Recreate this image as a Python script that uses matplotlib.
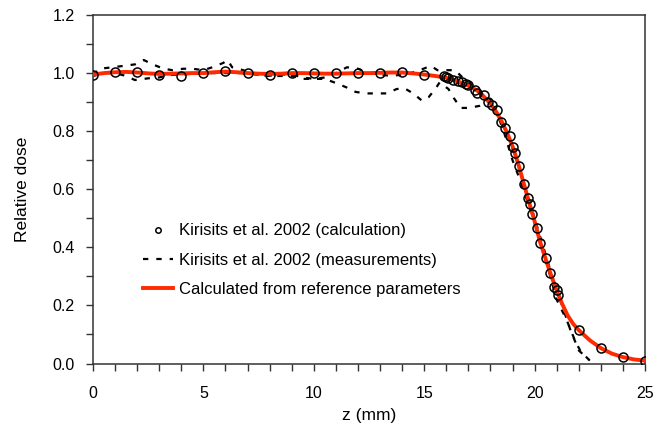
import matplotlib
matplotlib.use("Agg")
import matplotlib.pyplot as plt
from matplotlib.ticker import MultipleLocator

plt.rcParams['font.family'] = ['Liberation Sans', 'DejaVu Sans']

# Kirisits et al. 2002 (calculation) - circles
calc_z = [0, 1, 2, 3, 4, 5, 6, 7, 8, 9, 10, 11, 12, 13, 14, 15,
          15.9, 16.0, 16.1, 16.3, 16.55, 16.7, 16.9, 17.0, 17.3, 17.4, 17.7, 17.9,
          18.05, 18.3, 18.5, 18.65, 18.9, 19.0, 19.1, 19.3, 19.5, 19.7, 19.8, 19.9,
          20.1, 20.25, 20.5, 20.7, 20.9, 21.0, 21.07, 22, 23, 24, 25]
calc_d = [0.995, 1.005, 1.005, 0.995, 0.99, 1.0, 1.008, 1.0, 0.993, 1.0, 1.0, 1.0, 1.0, 1.001, 1.005, 0.993,
          0.99, 0.988, 0.982, 0.975, 0.972, 0.968, 0.962, 0.958, 0.942, 0.933, 0.925, 0.901,
          0.89, 0.873, 0.833, 0.81, 0.782, 0.747, 0.726, 0.681, 0.618, 0.569, 0.549, 0.515,
          0.466, 0.415, 0.362, 0.313, 0.265, 0.252, 0.236, 0.116, 0.052, 0.023, 0.01]

# Kirisits et al. 2002 (measurements) - two dashed profiles
meas1_z = [0, 0.3, 0.9, 1.4, 1.9, 2.3, 2.7, 3.2, 3.6, 4.1, 4.5, 5.0, 5.4, 5.9, 6.1, 6.3, 6.8,
           7.3, 7.9, 8.4, 9.0, 9.5, 10.0, 10.5, 11.0, 11.5, 12.0, 12.5, 13.0, 13.5, 14.0,
           14.4, 14.8, 15.3, 15.6, 16.0, 16.4, 16.8, 17.2, 17.6, 18.0, 18.4, 18.8, 19.2,
           19.6, 20.0, 20.4, 20.8, 21.2, 21.6, 22.0, 22.5]
meas1_d = [0.995, 1.015, 1.02, 1.025, 1.03, 1.045, 1.03, 1.015, 1.01, 1.015, 1.015, 1.01, 1.02,
           1.035, 1.045, 1.02, 1.01, 0.996, 0.99, 0.995, 0.995, 0.985, 0.98, 0.985, 1.0, 1.02,
           1.015, 1.0, 0.995, 0.99, 0.995, 1.0, 1.01, 1.025, 1.01, 1.01, 1.01, 0.98, 0.955,
           0.93, 0.9, 0.85, 0.78, 0.70, 0.60, 0.50, 0.40, 0.30, 0.21, 0.12, 0.045, 0.01]
meas2_z = [0, 0.5, 1.0, 1.5, 1.9, 2.5, 3.0, 3.4, 4.0, 5.0, 6.0, 7.0, 8.0, 8.5, 9.0, 9.5, 10.0,
           10.5, 11.1, 11.5, 11.9, 12.4, 12.9, 13.3, 13.75, 14.1, 14.5, 14.9, 15.2, 15.5,
           15.7, 16.1, 16.35, 16.65, 17.0, 17.5, 17.8, 18.0, 18.3, 18.6, 19.0, 19.4, 19.8,
           20.2, 20.6, 21.0, 21.45, 21.85, 22.1, 22.45]
meas2_d = [0.99, 1.0, 1.0, 0.99, 0.976, 0.982, 0.985, 0.993, 0.995, 1.0, 1.0, 1.0, 0.99, 0.99,
           0.99, 0.98, 0.98, 0.98, 0.963, 0.95, 0.935, 0.93, 0.93, 0.93, 0.945, 0.948, 0.93,
           0.905, 0.917, 0.945, 0.968, 0.945, 0.913, 0.88, 0.88, 0.887, 0.9, 0.91, 0.86, 0.80,
           0.70, 0.62, 0.53, 0.44, 0.33, 0.22, 0.15, 0.075, 0.04, 0.014]

# Calculated from reference parameters - red line
ref_z = [0, 0.5, 1, 1.5, 2, 2.5, 3, 3.5, 4, 4.5, 5, 5.5, 6, 6.5, 7, 7.5, 8, 8.5, 9, 9.5, 10,
         10.5, 11, 11.5, 12, 12.5, 13, 13.5, 14, 14.5, 15, 15.5, 16, 16.5, 17, 17.5, 18,
         18.25, 18.5, 18.75, 19, 19.25, 19.5, 19.75, 20, 20.25, 20.5, 20.75, 21, 21.25,
         21.5, 21.75, 22, 22.5, 23, 23.5, 24, 24.5, 25]
ref_d = [0.995, 1.0, 1.003, 1.004, 1.002, 0.999, 0.997, 0.998, 0.999, 1.0, 1.0, 1.003, 1.005,
         1.003, 1.0, 0.998, 0.997, 0.998, 1.0, 1.0, 0.999, 0.998, 0.998, 0.999, 1.0, 1.0,
         1.001, 1.002, 1.002, 0.999, 0.995, 0.99, 0.984, 0.972, 0.957, 0.935, 0.895, 0.868,
         0.835, 0.795, 0.748, 0.69, 0.622, 0.555, 0.49, 0.418, 0.36, 0.303, 0.252, 0.205,
         0.165, 0.136, 0.115, 0.08, 0.053, 0.034, 0.022, 0.014, 0.01]

x_ticks = [0, 5, 10, 15, 20, 25]
y_ticks = [0.0, 0.2, 0.4, 0.6, 0.8, 1.0, 1.2]

fig = plt.figure(figsize=(6.71, 4.25), dpi=100)
ax = fig.add_axes([93/671, 1 - 363.5/425, (645-93)/671, (363.5-15)/425])

red = '#ff2a00'
dash = (0, (2.4, 3.6))
ax.plot(meas1_z, meas1_d, color='black', lw=1.6, linestyle=dash, zorder=2,
        label='Kirisits et al. 2002 (measurements)')
ax.plot(meas2_z, meas2_d, color='black', lw=1.6, linestyle=dash, zorder=2)
ax.plot(ref_z, ref_d, color=red, lw=2.8, zorder=3,
        label='Calculated from reference parameters')
ax.plot(calc_z, calc_d, linestyle='none', marker='o', markersize=6.5,
        markerfacecolor='none', markeredgecolor='black', markeredgewidth=1.1, zorder=4,
        label='Kirisits et al. 2002 (calculation)')

ax.set_xlim(0, 25)
ax.set_ylim(0, 1.2)
ax.set_xticks(x_ticks)
ax.set_yticks(y_ticks)
ax.set_yticklabels([f'{v:.1f}' for v in y_ticks])
ax.xaxis.set_minor_locator(MultipleLocator(1))
ax.yaxis.set_minor_locator(MultipleLocator(0.1))
ax.tick_params(axis='both', which='both', direction='out', length=5, width=1,
               color='#333333', labelsize=11.5, top=False, right=False)
ax.tick_params(axis='x', pad=11)
ax.tick_params(axis='y', pad=8)
for s in ax.spines.values():
    s.set_color('#333333')
    s.set_linewidth(1.1)

ax.set_xlabel('z (mm)', fontsize=12.5, labelpad=5)
ax.set_ylabel('Relative dose', fontsize=12.5, labelpad=16)

h, l = ax.get_legend_handles_labels()
order = [2, 0, 1]
leg = ax.legend([h[i] for i in order], [l[i] for i in order], loc='center left',
                bbox_to_anchor=((143-93)/552, (363.5-260)/348.5), frameon=False,
                fontsize=12, handlelength=1.8, handletextpad=0.35, labelspacing=0.85,
                borderpad=0, borderaxespad=0, markerscale=0.6)

fig.savefig('out.png', dpi=100)
